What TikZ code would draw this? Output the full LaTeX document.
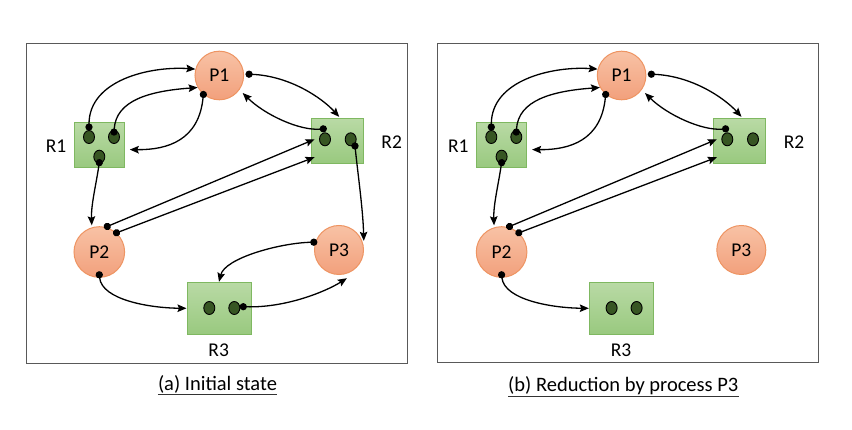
\documentclass[tikz,border=0pt]{standalone}
\usepackage{fontspec}
\setmainfont{Carlito}
\usetikzlibrary{arrows.meta,shapes.geometric}
\definecolor{proctop}{HTML}{F8C2A5}
\definecolor{procbot}{HTML}{F2A07C}
\definecolor{procline}{HTML}{EE9462}
\definecolor{restop}{HTML}{B9DAA5}
\definecolor{resbot}{HTML}{99C97F}
\definecolor{resline}{HTML}{7FB861}
\definecolor{tokfill}{HTML}{375623}
\definecolor{framecol}{HTML}{595959}
\tikzset{
  proc/.style={circle, inner sep=0pt, draw=procline, line width=1pt,
    top color=proctop, bottom color=procbot, font=\fontsize{19.5}{23}\selectfont},
  res/.style={rectangle, inner sep=0pt, draw=resline, line width=1pt,
    top color=restop, bottom color=resbot},
  tok/.style={ellipse, inner sep=0pt, minimum width=11pt, minimum height=13pt,
    draw=black, line width=0.9pt, fill=tokfill},
  rlabel/.style={inner sep=0pt, font=\fontsize{19.5}{23}\selectfont},
  conn/.style={line width=1.3pt, shorten <=-3.6pt,
    {Circle[length=7.2pt]}-{Stealth[length=9pt,width=7.5pt,inset=1.5pt]}},
  framebox/.style={draw=framecol, line width=1pt},
  captext/.style={inner sep=0pt, font=\fontsize{20.5}{24}\selectfont},
  uline/.style={draw=black!80, line width=1.1pt},
}
\newcommand{\drawpanel}[1]{%
  \node[proc, minimum size=48.6pt] (#1P1) at (219.3,75.5) {P1};
  \node[proc, minimum size=50.6pt] (#1P2) at (99.3,252) {P2};
  \node[proc, minimum size=49pt] (#1P3) at (339,250) {P3};
  \node[res, minimum width=50pt, minimum height=45pt] (#1R1) at (99.3,144.8) {};
  \node[res, minimum width=52.3pt, minimum height=44.7pt] (#1R2) at (337.2,140.7) {};
  \node[res, minimum width=64pt, minimum height=52pt] (#1R3) at (219,308.3) {};
  \node[tok] (#1r1a) at (89,137) {};
  \node[tok] (#1r1b) at (114,137) {};
  \node[tok] (#1r1c) at (99.3,156.7) {};
  \node[tok] (#1r2a) at (325,139.3) {};
  \node[tok] (#1r2b) at (350.7,139.3) {};
  \node[tok] (#1r3a) at (209.3,308) {};
  \node[tok] (#1r3b) at (234.3,308) {};
  \node[rlabel] (#1L1) at (56,146.3) {R1};
  \node[rlabel] (#1L2) at (391.7,142.5) {R2};
  \node[rlabel] (#1L3) at (218.7,350.3) {R3};
  % edges
  \draw[conn] ([yshift=3pt]#1r1a.north) .. controls (89,80) and (150,66) .. (#1P1.165);
  \draw[conn] ([yshift=-2pt]#1r1b.north) .. controls (116,100) and (150,91) .. (#1P1.209);
  \draw[conn] (#1P1.230) .. controls (199,140) and (168,150) .. ([xshift=5pt,yshift=-0.3pt]#1R1.-10);
  \draw[conn] ([xshift=5pt]#1P1.3) .. controls (290,76) and (322,98) .. ([yshift=1pt]#1R2.85);
  \draw[conn] ([xshift=-1.7pt,yshift=3.5pt]#1r2a.north) .. controls (300,131) and (265,115) .. ([xshift=3.6pt,yshift=-2.6pt]#1P1.-37);
  \draw[conn] ([yshift=1pt]#1r1c.south) .. controls (96,185) and (91,205) .. ([yshift=2pt]#1P2.107);
  \draw[conn] ([yshift=1pt]#1P2.72) -- ([xshift=4pt,yshift=1.4pt]#1R2.west);
  \draw[conn] (#1P2.48) -- ([xshift=4pt,yshift=6.3pt]#1R2.south west);
  \draw[conn] ([yshift=3pt]#1P2.south) .. controls (102,300) and (150,308) .. (#1R3.west);
}
\begin{document}
\begin{tikzpicture}[x=1pt,y=-1pt]
\useasboundingbox (0,0) rectangle (852,430);
\fill[white] (0,0) rectangle (852,430);
\draw[framebox] (26,44) rectangle (407.7,363.3);
\draw[framebox] (437.3,43.3) rectangle (818.3,362.7);
\drawpanel{a}
\draw[conn] ([xshift=4.3pt,yshift=-6.7pt]ar2b.center) .. controls (358,175) and (363,210) .. ([xshift=1.3pt,yshift=0.6pt]aP3.20);
\draw[conn] ([xshift=-1.3pt,yshift=0.5pt]aP3.163) .. controls (280,243) and (225,258) .. (aR3.north);
\draw[conn] ([xshift=3pt,yshift=1.3pt]ar3b.east) .. controls (285,308) and (325,292) .. ([xshift=1pt,yshift=-4.2pt]aP3.-74);
\begin{scope}[xshift=402.3pt]
\drawpanel{b}
\end{scope}
\node[captext, anchor=base] (capa) at (217.5,391) {(a) Initial state};
\draw[uline] ([yshift=-3.5pt]capa.base west) -- ([yshift=-3.5pt]capa.base east);
\node[captext, anchor=base] (capb) at (623.3,391.7) {(b) Reduction by process P3};
\draw[uline] ([yshift=-4.5pt]capb.base west) -- ([yshift=-4.5pt]capb.base east);
\end{tikzpicture}
\end{document}
